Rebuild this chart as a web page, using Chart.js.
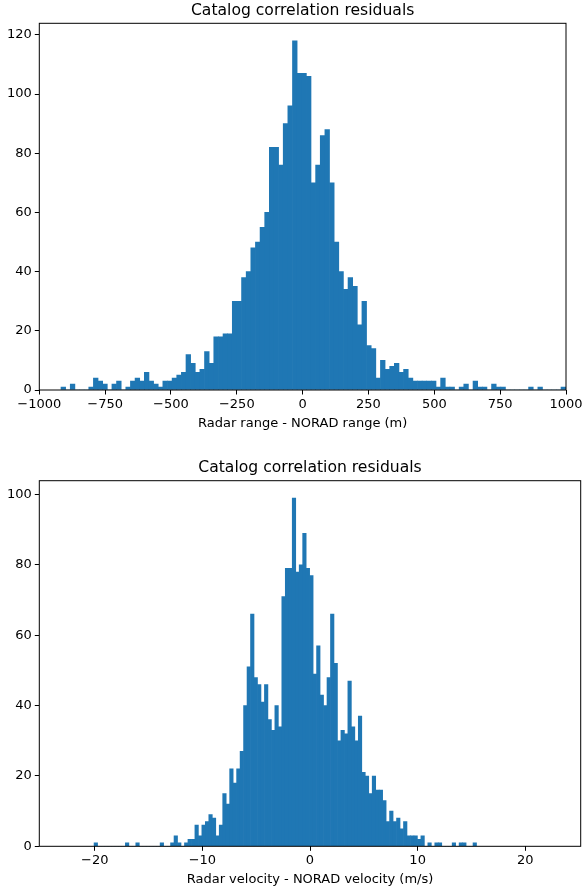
<!DOCTYPE html>
<html><head><meta charset="utf-8">
<script src="https://cdn.jsdelivr.net/npm/chart.js@4/dist/chart.umd.min.js"></script>
<style>
html,body{margin:0;padding:0;background:#fff;width:582px;height:890px;overflow:hidden}
canvas{position:absolute;left:0}
#c1{top:0}
#c2{top:445px}
</style></head><body>
<canvas id="c1" width="582" height="445"></canvas>
<canvas id="c2" width="582" height="445"></canvas>
<script>
const chartTitle = 'Catalog correlation residuals';
const rangeLabel = 'Radar range - NORAD range (m)';
const velocityLabel = 'Radar velocity - NORAD velocity (m/s)';

// Histogram 1: range residuals (bins of equal width starting at rangeBinStart)
const rangeBinStart = -917.6;
const rangeBinWidth = 17.58;
const rangeCounts = [1,0,2,0,0,0,1,4,3,2, 0,2,3,0,1,3,4,3,6,3, 2,1,3,3,4,5,6,12,9,6,
  7,13,9,18,18,19,19,30,30,38, 40,48,50,55,60,82,82,76,90,96, 118,107,107,106,70,76,86,88,70,50,
  40,34,38,35,22,30,15,14,4,10, 7,8,9,6,7,4,3,3,3,3, 3,1,4,1,1,0,1,2,0,3,
  1,1,0,2,1,1,0,0,0,0, 0,1,0,1,0,0,0,0,1];
const rangeTicksX = [-1000,-750,-500,-250,0,250,500,750,1000];
const rangeTicksY = [0,20,40,60,80,100,120];

// Histogram 2: velocity residuals
const velocityBinStart = -20.06;
const velocityBinWidth = 0.323;
const velocityCounts = [1,0,0,0,0,0,0,0,0,1, 0,0,1,0,0,0,0,0,0,1, 0,0,1,3,1,0,1,2,2,6,
  3,6,7,9,8,3,6,15,12,22, 18,22,27,40,51,66,48,46,41,46, 36,33,40,34,71,79,79,99,78,80,
  89,79,77,49,57,43,40,48,66,52, 30,33,32,47,34,30,37,21,20,15, 20,16,16,13,7,10,7,8,5,7,
  3,3,3,2,3,0,1,0,1,1, 0,0,0,1,0,1,1,0,0,1];
const velocityTicksX = [-20,-10,0,10,20];
const velocityTicksY = [0,20,40,60,80,100];

Chart.defaults.font.family = "'DejaVu Sans', sans-serif";
Chart.defaults.color = '#000';

const fmt = v => (v < 0 ? '\u2212' + Math.abs(v) : String(v));

const framePlugin = {
  id: 'frame',
  afterDraw(chart) {
    const {ctx, chartArea: a} = chart;
    ctx.save();
    ctx.strokeStyle = '#000';
    ctx.lineWidth = 1;
    ctx.strokeRect(a.left, a.top, a.right - a.left, a.bottom - a.top);
    ctx.restore();
  }
};

function histChart(id, p) {
  const data = p.counts.map((c, i) => ({x: p.start + p.width * (i + 0.5), y: c}));
  return new Chart(document.getElementById(id), {
    type: 'bar',
    data: {datasets: [{data, backgroundColor: '#1f77b4', borderWidth: 0, barPercentage: 1, categoryPercentage: 1}]},
    options: {
      responsive: false, animation: false, devicePixelRatio: 1,
      layout: {padding: {left: 0, right: p.padRight, top: 0, bottom: 0}},
      plugins: {
        legend: {display: false}, tooltip: {enabled: false},
        title: {display: true, text: chartTitle, fullSize: false, color: '#000',
          font: {size: 15.6, weight: 'normal'}, padding: {top: p.titleTop, bottom: p.titleBottom}}
      },
      scales: {
        x: {
          type: 'linear', min: p.xmin, max: p.xmax, offset: false,
          grid: {display: true, drawOnChartArea: false, drawTicks: true, tickLength: 4.5, color: '#000', tickColor: '#000', tickWidth: 1, offset: false},
          border: {display: false},
          ticks: {font: {size: 13}, color: '#000', padding: 2.4, maxRotation: 0, autoSkip: false, callback: v => fmt(v)},
          title: {display: true, text: p.xlabel, color: '#000', font: {size: 13}, padding: {top: 0, bottom: p.xTitleBottom}},
          afterBuildTicks: s => { s.ticks = p.xticks.map(v => ({value: v})); },
          afterFit: s => { s.height = p.xHeight; s.paddingLeft = 0; s.paddingRight = 0; }
        },
        y: {
          type: 'linear', min: 0, max: p.ymax,
          grid: {display: true, drawOnChartArea: false, drawTicks: true, tickLength: 4.5, color: '#000', tickColor: '#000', tickWidth: 1},
          border: {display: false},
          ticks: {font: {size: 13}, color: '#000', padding: 3, callback: v => fmt(v)},
          afterBuildTicks: s => { s.ticks = p.yticks.map(v => ({value: v})); },
          afterFit: s => { s.width = 39.3; s.paddingTop = 0; s.paddingBottom = 0; }
        }
      }
    },
    plugins: [framePlugin]
  });
}

histChart('c1', {
  counts: rangeCounts, start: rangeBinStart, width: rangeBinWidth,
  xmin: -1000, xmax: 1000, ymax: 123.9, xticks: rangeTicksX, yticks: rangeTicksY, xlabel: rangeLabel,
  padRight: 16, titleTop: 2, titleBottom: 2.58, xHeight: 55, xTitleBottom: 13.5
});
histChart('c2', {
  counts: velocityCounts, start: velocityBinStart, width: velocityBinWidth,
  xmin: -25.15, xmax: 25.15, ymax: 103.95, xticks: velocityTicksX, yticks: velocityTicksY, xlabel: velocityLabel,
  padRight: 1.3, titleTop: 13.4, titleBottom: 3.58, xHeight: 43.7, xTitleBottom: 2.5
});
</script>
</body></html>
